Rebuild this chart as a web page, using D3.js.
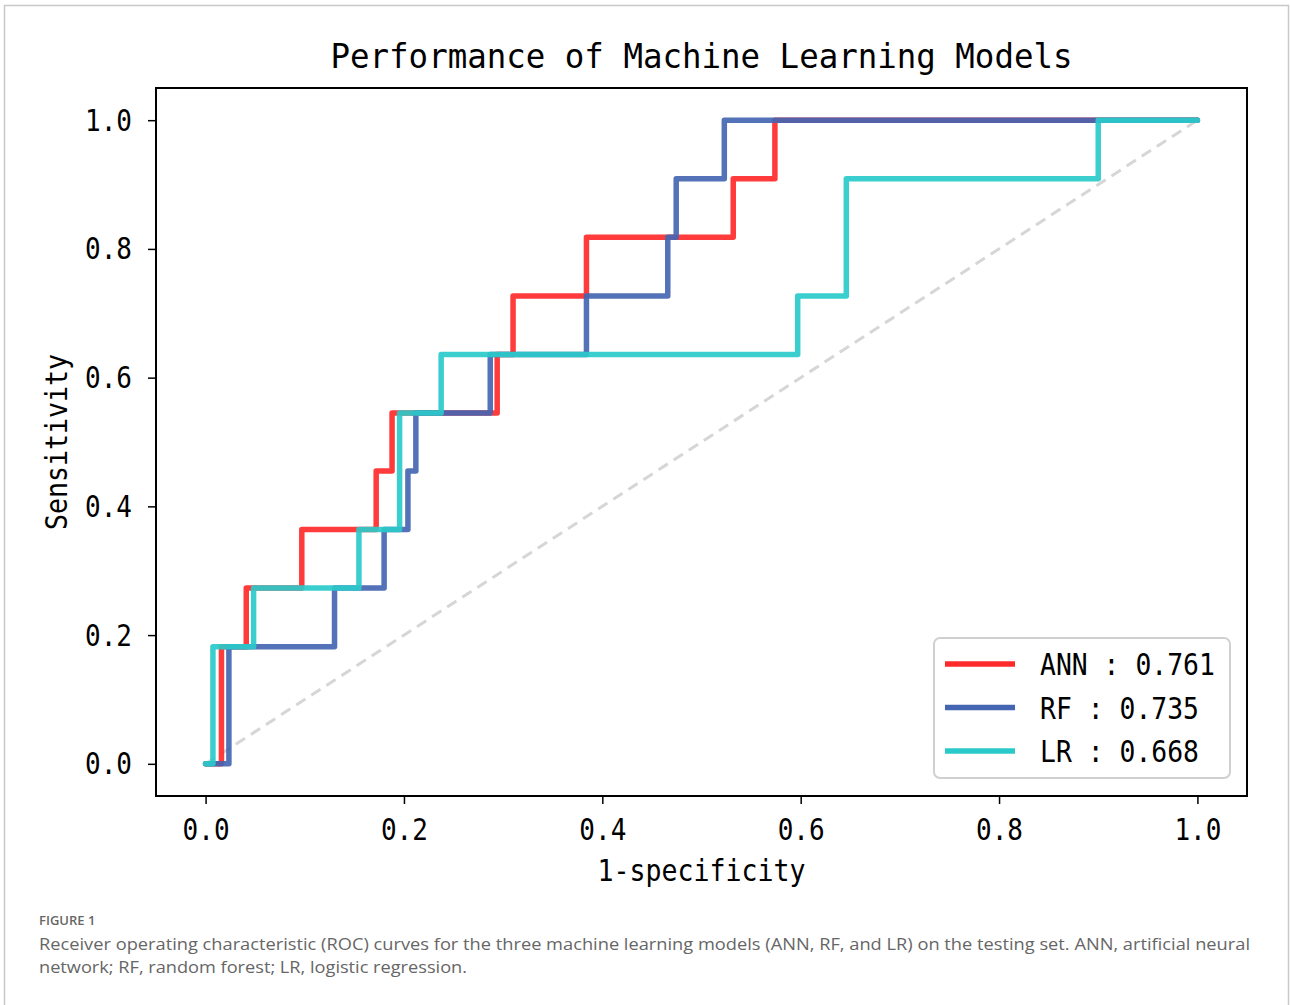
<!DOCTYPE html>
<html>
<head>
<meta charset="utf-8">
<script src="https://cdn.jsdelivr.net/npm/d3@7/dist/d3.min.js"></script>
<style>
  body { margin: 0; background: #fff; }
  svg { display: block; }
</style>
</head>
<body>
<div id="chart"></div>
<script>
// ROC step points (x = 1-specificity, y = sensitivity)
var annX = [0, 0.016, 0.016, 0.041, 0.041, 0.097, 0.097, 0.172, 0.172, 0.188, 0.188, 0.294, 0.294, 0.310, 0.310, 0.384, 0.384, 0.532, 0.532, 0.574, 0.574, 1.0];
var annY = [0, 0, 0.182, 0.182, 0.273, 0.273, 0.364, 0.364, 0.455, 0.455, 0.545, 0.545, 0.636, 0.636, 0.727, 0.727, 0.818, 0.818, 0.909, 0.909, 1.0, 1.0];

var rfX = [0, 0.0235, 0.0235, 0.130, 0.130, 0.180, 0.180, 0.204, 0.204, 0.212, 0.212, 0.287, 0.287, 0.384, 0.384, 0.466, 0.466, 0.4745, 0.4745, 0.523, 0.523, 1.0];
var rfY = [0, 0, 0.182, 0.182, 0.273, 0.273, 0.364, 0.364, 0.455, 0.455, 0.545, 0.545, 0.636, 0.636, 0.727, 0.727, 0.818, 0.818, 0.909, 0.909, 1.0, 1.0];

var lrX = [0, 0.0074, 0.0074, 0.0484, 0.0484, 0.1546, 0.1546, 0.1956, 0.1956, 0.2375, 0.2375, 0.597, 0.597, 0.646, 0.646, 0.900, 0.900, 1.0];
var lrY = [0, 0, 0.182, 0.182, 0.273, 0.273, 0.364, 0.364, 0.545, 0.545, 0.636, 0.636, 0.727, 0.727, 0.909, 0.909, 1.0, 1.0];

var modelNames = ['ANN', 'RF', 'LR'];
var modelAuc = ['0.761', '0.735', '0.668'];
var modelColors = ['#ff2a2a', '#4466b2', '#2acaca'];

var xTicks = [0, 0.2, 0.4, 0.6, 0.8, 1.0];
var yTicks = [0, 0.2, 0.4, 0.6, 0.8, 1.0];

var titleText = 'Performance of Machine Learning Models';
var xLabel = '1-specificity';
var yLabel = 'Sensitivity';
var figLabel = 'FIGURE 1';
var captionLines = [
  'Receiver operating characteristic (ROC) curves for the three machine learning models (ANN, RF, and LR) on the testing set. ANN, artificial neural',
  'network; RF, random forest; LR, logistic regression.'
];

var W = 1290, H = 1005;
var plot = { left: 156, right: 1247, top: 88, bottom: 796 };
var monoFont = "'DejaVu Sans Mono', 'Liberation Mono', monospace";

var svg = d3.select('#chart').append('svg')
  .attr('width', W)
  .attr('height', H);

// outer figure frame
svg.append('rect')
  .attr('x', 4.5).attr('y', 5.5)
  .attr('width', 1284).attr('height', 1010)
  .attr('fill', 'none')
  .attr('stroke', '#c8c8c8')
  .attr('stroke-width', 1.5);

var x = d3.scaleLinear().domain([-0.05, 1.05]).range([plot.left, plot.right]);
var y = d3.scaleLinear().domain([-0.05, 1.05]).range([plot.bottom, plot.top]);

// chance diagonal
svg.append('line')
  .attr('x1', x(0)).attr('y1', y(0))
  .attr('x2', x(1)).attr('y2', y(1))
  .attr('stroke', '#d6d6d6')
  .attr('stroke-width', 3)
  .attr('stroke-dasharray', '11,7');

// curves
var line = d3.line()
  .x(function (d) { return x(d[0]); })
  .y(function (d) { return y(d[1]); });

var series = [d3.zip(annX, annY), d3.zip(rfX, rfY), d3.zip(lrX, lrY)];
series.forEach(function (pts, i) {
  svg.append('path')
    .datum(pts)
    .attr('d', line)
    .attr('fill', 'none')
    .attr('stroke', modelColors[i])
    .attr('stroke-width', 5.5)
    .attr('stroke-opacity', 0.92)
    .attr('stroke-linejoin', 'round')
    .attr('stroke-linecap', 'round');
});

// axes
var xAxis = svg.append('g')
  .attr('transform', 'translate(0,' + plot.bottom + ')')
  .call(d3.axisBottom(x).tickValues(xTicks).tickFormat(d3.format('.1f')).tickSize(8).tickPadding(14));
var yAxis = svg.append('g')
  .attr('transform', 'translate(' + plot.left + ',0)')
  .call(d3.axisLeft(y).tickValues(yTicks).tickFormat(d3.format('.1f')).tickSize(8).tickPadding(16));

[xAxis, yAxis].forEach(function (g) {
  g.select('.domain').remove();
  g.selectAll('.tick line').attr('stroke', '#000').attr('stroke-width', 1.5);
  g.selectAll('.tick text')
    .attr('fill', '#000')
    .style('font-family', monoFont)
    .style('font-size', '31px')
    .attr('textLength', 47)
    .attr('lengthAdjust', 'spacingAndGlyphs');
});
xAxis.selectAll('.tick text').attr('dy', '0.72em');

// plot frame
svg.append('rect')
  .attr('x', plot.left).attr('y', plot.top)
  .attr('width', plot.right - plot.left)
  .attr('height', plot.bottom - plot.top)
  .attr('fill', 'none')
  .attr('stroke', '#000')
  .attr('stroke-width', 2);

// title and axis labels
svg.append('text')
  .attr('x', (plot.left + plot.right) / 2).attr('y', 68)
  .attr('text-anchor', 'middle')
  .style('font-family', monoFont).style('font-size', '34px')
  .attr('textLength', 742).attr('lengthAdjust', 'spacingAndGlyphs')
  .text(titleText);

svg.append('text')
  .attr('x', x(0.5)).attr('y', 881)
  .attr('text-anchor', 'middle')
  .style('font-family', monoFont).style('font-size', '30px')
  .attr('textLength', 208).attr('lengthAdjust', 'spacingAndGlyphs')
  .text(xLabel);

svg.append('text')
  .attr('transform', 'translate(67,' + ((plot.top + plot.bottom) / 2) + ') rotate(-90)')
  .attr('text-anchor', 'middle')
  .style('font-family', monoFont).style('font-size', '30px')
  .attr('textLength', 176).attr('lengthAdjust', 'spacingAndGlyphs')
  .text(yLabel);

// legend
var legend = svg.append('g').attr('transform', 'translate(934,638)');
legend.append('rect')
  .attr('width', 296).attr('height', 140)
  .attr('rx', 6).attr('ry', 6)
  .attr('fill', '#fff').attr('fill-opacity', 0.85)
  .attr('stroke', '#d0d0d0').attr('stroke-width', 2);

modelNames.forEach(function (name, i) {
  var ly = 26 + i * 43.5;
  legend.append('line')
    .attr('x1', 11).attr('x2', 81)
    .attr('y1', ly).attr('y2', ly)
    .attr('stroke', modelColors[i])
    .attr('stroke-width', 5.5);
  var label = name + ' : ' + modelAuc[i];
  legend.append('text')
    .attr('x', 106).attr('y', ly + 11)
    .style('font-family', monoFont).style('font-size', '30px')
    .attr('textLength', label.length * 15.9)
    .attr('lengthAdjust', 'spacingAndGlyphs')
    .text(label);
});

// caption
svg.append('text')
  .attr('x', 39).attr('y', 925)
  .attr('fill', '#666')
  .style('font-family', "'Open Sans', 'Noto Sans', sans-serif")
  .style('font-size', '13px').style('font-weight', 600)
  .text(figLabel);

captionLines.forEach(function (t, i) {
  svg.append('text')
    .attr('x', 39).attr('y', 950 + i * 23)
    .attr('fill', '#666')
    .style('font-family', "'Open Sans', 'Noto Sans', sans-serif")
    .style('font-size', '16.5px')
    .attr('textLength', i === 0 ? 1211 : 428)
    .attr('lengthAdjust', 'spacingAndGlyphs')
    .text(t);
});
</script>
</body>
</html>
